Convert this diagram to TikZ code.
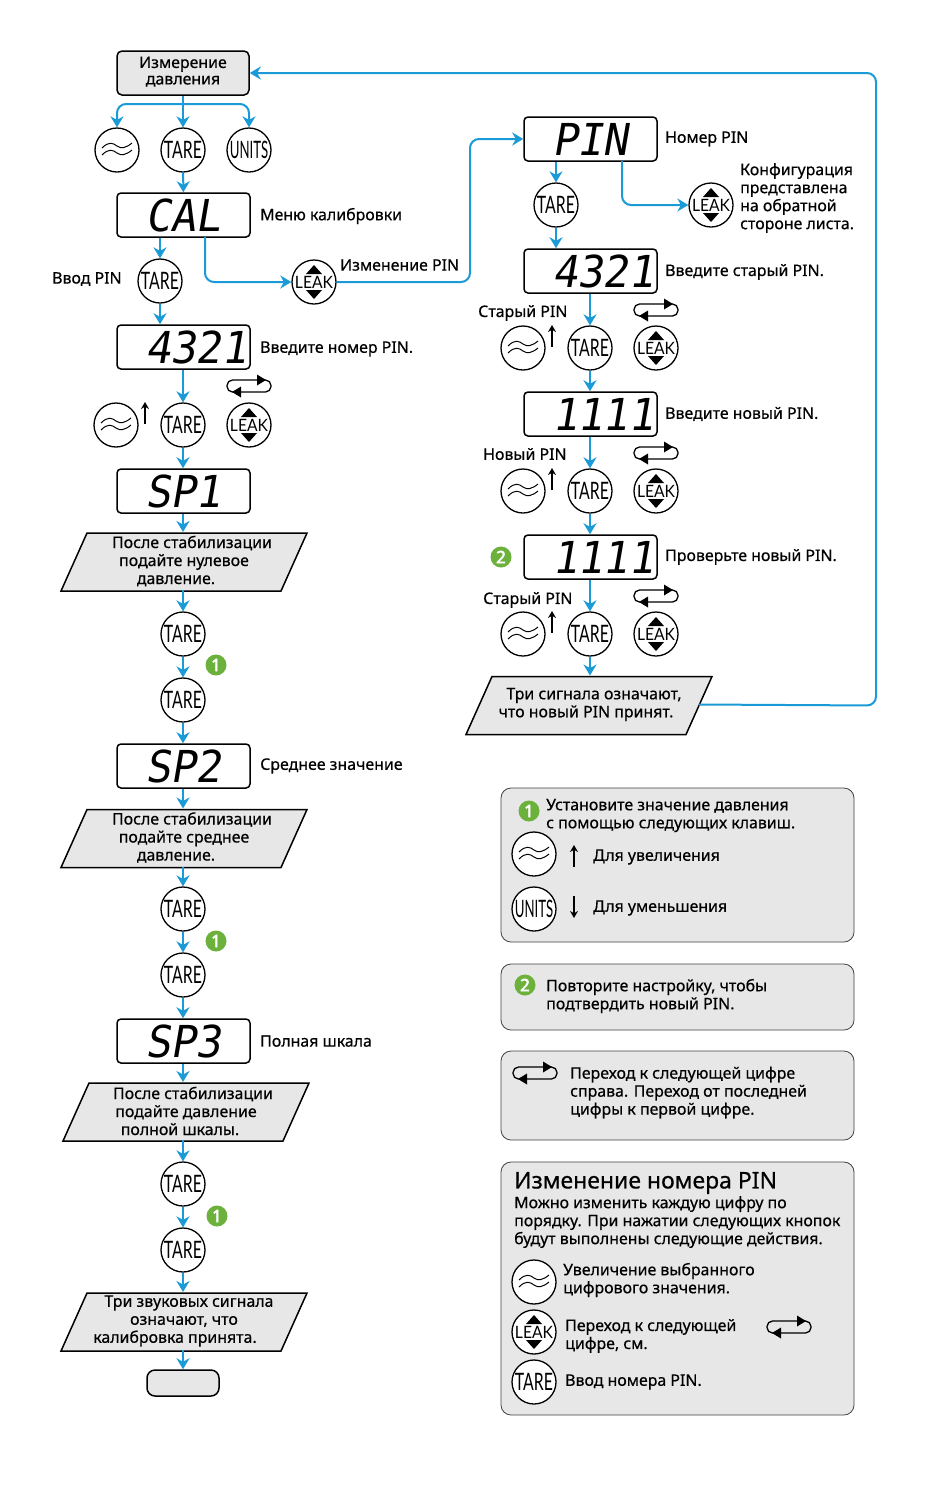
\documentclass[tikz,border=0pt]{standalone}
\usepackage{fontspec}
\usetikzlibrary{arrows.meta}
\setmainfont[FakeBold=0.5]{Noto Sans}
\newfontfamily\badgefont[FakeBold=3]{Noto Sans}
\newfontfamily\keyfont[FakeStretch=0.66]{Lato}
\newfontfamily\unitfont[FakeStretch=0.55]{Lato}
\newfontfamily\leakfont[FakeStretch=0.92]{Lato}
\newfontfamily\segfont[FakeSlant=0.17,FakeStretch=0.96]{DejaVu Sans Mono}
\definecolor{flowblue}{HTML}{1A9AD6}
\definecolor{panelgray}{HTML}{E7E7E7}
\definecolor{badgegreen}{HTML}{6BB13C}
\tikzset{
  flow/.style={draw=flowblue,line width=2pt,rounded corners=9pt,-{Stealth[length=11pt,width=13pt]}},
  keybtn/.style={circle,draw,line width=1.3pt,minimum size=44pt,inner sep=0pt,fill=white},
  dispbox/.style={draw,rectangle,rounded corners=4pt,line width=1.5pt,minimum width=133pt,minimum height=44pt,inner xsep=0pt,inner ysep=0pt,text height=32pt,text depth=0pt},
  startbox/.style={draw,rectangle,rounded corners=5pt,line width=1.5pt,fill=panelgray,minimum width=132pt,minimum height=44pt,inner sep=0pt,align=center,font=\fontsize{15.9}{18}\selectfont},
  parashape/.style={draw,line width=1.5pt,fill=panelgray},
  paratext/.style={minimum width=220pt,minimum height=58pt,inner sep=0pt,outer sep=0pt,align=center,yshift=1pt,font=\fontsize{15.9}{18}\selectfont},
  lbl/.style={anchor=west,inner sep=0pt,align=left,yshift=-2pt,font=\fontsize{15.9}{18}\selectfont},
  panel/.style={draw=black!75,line width=0.8pt,rounded corners=10pt,fill=panelgray},
  badge/.style={circle,fill=badgegreen,text=white,minimum size=21pt,inner sep=0pt,font=\fontsize{17}{17}\selectfont\badgefont},
  smallarr/.style={line width=1.4pt,-{Stealth[length=7pt,width=8pt]}},
}
\newcommand{\keytxt}[1]{\makebox[0pt]{\fontsize{24}{24}\selectfont\keyfont #1}}
\newcommand{\unittxt}[1]{\makebox[0pt]{\fontsize{24}{24}\selectfont\unitfont #1}}
\newcommand{\seg}[1]{\makebox[133pt][l]{\hspace{28pt}\fontsize{44}{44}\selectfont\segfont #1}}
% key with the two waves
\newcommand{\wavekey}[2]{
  \node[keybtn] (#1) at (#2) {};
  \begin{scope}[shift={(#2)},line width=1pt]
    \draw (-15,-2) .. controls (-8,-9) and (-4,-7) .. (0,-4) .. controls (4,-1) and (9,-2) .. (15,-7);
    \draw (-15,5) .. controls (-8,-2) and (-4,0) .. (0,3) .. controls (4,6) and (9,5) .. (15,0);
  \end{scope}
}
% key with the two triangles
\newcommand{\leakkey}[2]{
  \node[keybtn] (#1) at (#2) {\makebox[0pt]{\fontsize{17}{17}\selectfont\leakfont LEAK}};
  \begin{scope}[shift={(#2)}]
    \fill (0,-17) -- (8,-8) -- (-8,-8) -- cycle;
    \fill (0,17) -- (8,8) -- (-8,8) -- cycle;
  \end{scope}
}
% next digit symbol
\newcommand{\loopsym}[1]{
  \begin{scope}[shift={(#1)}]
    \draw[line width=1.3pt,rounded corners=5.5pt] (-22,-6) rectangle (22,6);
    \fill (17,-6) -- (8,-11.5) -- (8,-0.5) -- cycle;
    \fill (-17,6) -- (-8,0.5) -- (-8,11.5) -- cycle;
  \end{scope}
}
\newcommand{\paranode}[3]{
  \draw[parashape] (#2) +(-97,-29) -- +(123,-29) -- +(97,29) -- +(-123,29) -- cycle;
  \node[paratext] (#1) at (#2) {#3};
}
\begin{document}
\begin{tikzpicture}[x=1pt,y=-1pt]
  \useasboundingbox (0,0) rectangle (950,1497);

  % Legend panels
  \draw[panel] (501,788) rectangle (854,942);
  \draw[panel] (501,964) rectangle (854,1030);
  \draw[panel] (501,1051) rectangle (854,1140);
  \draw[panel] (501,1162) rectangle (854,1415);

  % Left column
  \node[startbox] (start) at (183,73) {\raisebox{5pt}{\shortstack{Измерение\\[1pt]давления}}};
  \wavekey{filtA}{117,150}
  \node[keybtn] (tareA) at (183,150) {\keytxt{TARE}};
  \node[keybtn] (unitsA) at (249,150) {\unittxt{UNITS}};
  \coordinate (forkL) at (117,104);
  \coordinate (forkM) at (183,104);
  \coordinate (forkR) at (249,104);
  \node[dispbox] (cal) at (183.5,215) {\seg{CAL}};
  \node[lbl] (calL) at (260,214) {Меню калибровки};
  \node[keybtn] (tareB) at (160,281) {\keytxt{TARE}};
  \node[lbl] (tareBL) at (52,277) {Ввод PIN};
  \node[dispbox] (enter) at (183.5,347) {\seg{4321}};
  \node[lbl] (enterL) at (260,347) {Введите номер PIN.};
  \wavekey{filtB}{116,425}
  \draw[smallarr] (145,424) -- (145,402);
  \node[keybtn] (tareC) at (183,425) {\keytxt{TARE}};
  \leakkey{leakB}{249,425}
  \loopsym{249,386}
  \node[dispbox] (spA) at (183.5,491) {\seg{SP1}};
  \paranode{paraA}{184,562}{\hspace*{16pt}После стабилизации\\подайте нулевое\\давление.\hspace*{16pt}}
  \node[keybtn] (tareD) at (183,634) {\keytxt{TARE}};
  \node[badge] (badgeA) at (216,665) {1};
  \node[keybtn] (tareE) at (183,700) {\keytxt{TARE}};
  \node[dispbox] (spB) at (183.5,766) {\seg{SP2}};
  \node[lbl] (spBL) at (260,764) {Среднее значение};
  \paranode{paraB}{184,838.5}{\hspace*{16pt}После стабилизации\\подайте среднее\\давление.\hspace*{16pt}}
  \node[keybtn] (tareF) at (183,909) {\keytxt{TARE}};
  \node[badge] (badgeB) at (216,941) {1};
  \node[keybtn] (tareG) at (183,975) {\keytxt{TARE}};
  \node[dispbox] (spC) at (183.5,1041) {\seg{SP3}};
  \node[lbl] (spCL) at (260,1039) {Полная шкала};
  \paranode{paraC}{186,1112}{\hspace*{14pt}После стабилизации\\подайте давление\\полной шкалы.\hspace*{12pt}}
  \node[keybtn] (tareH) at (183,1184) {\keytxt{TARE}};
  \node[badge] (badgeC) at (217,1216) {1};
  \node[keybtn] (tareI) at (183,1250) {\keytxt{TARE}};
  \paranode{paraD}{184,1322}{\hspace*{10pt}Три звуковых сигнала\\означают, что\\калибровка принята.\hspace*{18pt}}
  \node[draw,line width=1.5pt,fill=panelgray,rounded corners=8pt,minimum width=72pt,minimum height=26pt,inner sep=0pt] (finish) at (183,1383) {};

  % Middle key
  \leakkey{leakA}{314,282}
  \node[lbl] (leakAL) at (340,263) {Изменение PIN};

  % Right column
  \node[dispbox] (pin) at (590.5,139) {\seg{PIN}};
  \node[lbl] (pinL) at (665,137) {Номер PIN};
  \node[keybtn] (tareJ) at (556,205) {\keytxt{TARE}};
  \leakkey{leakC}{711,205}
  \node[lbl] (cfgL) at (740,196) {Конфигурация\\представлена\\на обратной\\стороне листа.};
  \node[dispbox] (oldA) at (590.5,271) {\seg{4321}};
  \node[lbl] (oldAL) at (665,270) {Введите старый PIN.};
  \node[lbl] (oldBL) at (478,311) {Старый PIN};
  \wavekey{filtC}{523,348}
  \draw[smallarr] (552,347) -- (552,325);
  \node[keybtn] (tareK) at (590,348) {\keytxt{TARE}};
  \leakkey{leakD}{656,348}
  \loopsym{656,310}
  \node[dispbox] (newA) at (590.5,414) {\seg{1111}};
  \node[lbl] (newAL) at (665,412) {Введите новый PIN.};
  \node[lbl] (newBL) at (483,452) {Новый PIN};
  \wavekey{filtD}{523,491}
  \draw[smallarr] (552,490) -- (552,468);
  \node[keybtn] (tareL) at (590,491) {\keytxt{TARE}};
  \leakkey{leakE}{656,491}
  \loopsym{656,453}
  \node[dispbox] (newC) at (590.5,557) {\seg{1111}};
  \node[badge] (badgeD) at (501,557) {2};
  \node[lbl] (newCL) at (665,555) {Проверьте новый PIN.};
  \node[lbl] (newDL) at (483,598) {Старый PIN};
  \wavekey{filtE}{523,634}
  \draw[smallarr] (552,633) -- (552,611);
  \node[keybtn] (tareM) at (590,634) {\keytxt{TARE}};
  \leakkey{leakF}{656,634}
  \loopsym{656,596}
  \paranode{paraE}{589,705.5}{\hspace*{10pt}Три сигнала означают,\\что новый PIN принят.\hspace*{6pt}}

  % Connectors, left column
  \draw[flow] (start.south) -- (tareA.north);
  \draw[flow] (forkM) -- (forkL) -- (filtA.north);
  \draw[flow] (forkM) -- (forkR) -- (unitsA.north);
  \draw[flow] (tareA) -- (cal);
  \draw[flow] (cal.south -| tareB.north) -- (tareB.north);
  \draw[flow] (tareB.south) -- (enter.north -| tareB.south);
  \draw[flow] (enter.south -| tareC.north) -- (tareC.north);
  \draw[flow] (tareC.south) -- (spA.north -| tareC.south);
  \draw[flow] (spA.south -| tareC.south) -- (paraA.north -| tareC.south);
  \draw[flow] (paraA.south -| tareD.north) -- (tareD.north);
  \draw[flow] (tareD) -- (tareE);
  \draw[flow] (tareE.south) -- (spB.north -| tareE.south);
  \draw[flow] (spB.south -| tareE.south) -- (paraB.north -| tareE.south);
  \draw[flow] (paraB.south -| tareF.north) -- (tareF.north);
  \draw[flow] (tareF) -- (tareG);
  \draw[flow] (tareG.south) -- (spC.north -| tareG.south);
  \draw[flow] (spC.south -| tareG.south) -- (paraC.north -| tareG.south);
  \draw[flow] (paraC.south -| tareH.north) -- (tareH.north);
  \draw[flow] (tareH) -- (tareI);
  \draw[flow] (tareI.south) -- (paraD.north -| tareI.south);
  \draw[flow] (paraD.south -| finish.north) -- (finish.north);

  % Connectors, PIN branch
  \coordinate (calDrop) at (205,237);
  \coordinate (calTurn) at (205,282);
  \draw[flow] (calDrop) -- (calTurn) -- (leakA.west);
  \coordinate (pinTurnA) at (470,282);
  \coordinate (pinTurnB) at (470,139);
  \draw[flow] (leakA.east) -- (pinTurnA) -- (pinTurnB) -- (pin.west);
  \draw[flow] (pin.south -| tareJ.north) -- (tareJ.north);
  \coordinate (pinDrop) at (622,161);
  \coordinate (pinTurnC) at (622,205);
  \draw[flow] (pinDrop) -- (pinTurnC) -- (leakC.west);
  \draw[flow] (tareJ.south) -- (oldA.north -| tareJ.south);
  \draw[flow] (oldA.south -| tareK.north) -- (tareK.north);
  \draw[flow] (tareK.south) -- (newA.north -| tareK.south);
  \draw[flow] (newA.south -| tareL.north) -- (tareL.north);
  \draw[flow] (tareL.south) -- (newC.north -| tareL.south);
  \draw[flow] (newC.south -| tareM.north) -- (tareM.north);
  \draw[flow] (tareM.south) -- (paraE.north -| tareM.south);
  \coordinate (backA) at (876,705.5);
  \coordinate (backB) at (876,73);
  \draw[flow] (paraE.east) -- (backA) -- (backB) -- (start.east);

  % Panel one
  \node[badge] (noteA) at (529,811) {1};
  \node[lbl] (noteAL) at (546,813.5) {Установите значение давления\\с помощью следующих клавиш.};
  \wavekey{filtN}{534,854}
  \draw[smallarr] (574,867) -- (574,845);
  \node[lbl] (upL) at (593,855) {Для увеличения};
  \node[keybtn] (unitsN) at (534,909) {\unittxt{UNITS}};
  \draw[smallarr] (574,896) -- (574,918);
  \node[lbl] (downL) at (593,906) {Для уменьшения};

  % Panel two
  \node[badge] (noteB) at (525,985) {2};
  \node[lbl] (noteBL) at (546,994) {Повторите настройку, чтобы\\подтвердить новый PIN.};

  % Panel three
  \loopsym{535,1073}
  \node[lbl] (noteCL) at (570,1090.5) {Переход к следующей цифре\\справа. Переход от последней\\цифры к первой цифре.};

  % Panel four
  \node[lbl,font=\fontsize{23}{24}\selectfont] (headL) at (514,1181) {Изменение номера PIN};
  \node[lbl] (introL) at (514,1220) {Можно изменить каждую цифру по\\порядку. При нажатии следующих кнопок\\будут выполнены следующие действия.};
  \wavekey{filtP}{534,1282}
  \node[lbl] (filtPL) at (563,1278) {Увеличение выбранного\\цифрового значения.};
  \leakkey{leakP}{534,1332}
  \node[lbl] (leakPL) at (565,1334) {Переход к следующей\\цифре, см.};
  \loopsym{789,1327}
  \node[keybtn] (tareP) at (534,1382) {\keytxt{TARE}};
  \node[lbl] (tarePL) at (565,1380) {Ввод номера PIN.};
\end{tikzpicture}
\end{document}
